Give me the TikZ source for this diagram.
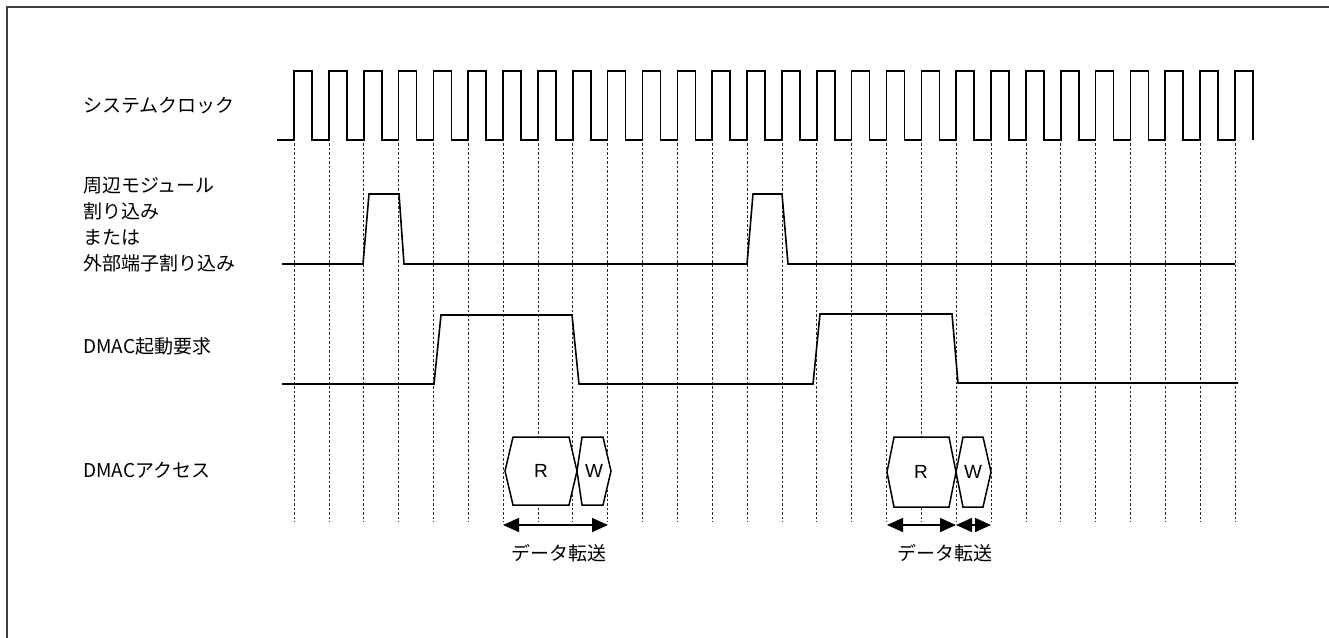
\documentclass[tikz,border=0pt]{standalone}
\usepackage{fontspec}
\setmainfont{Noto Sans CJK JP}
\newfontfamily\latinfont{Liberation Sans}
\usepackage{tikz}
\usetikzlibrary{arrows.meta}
\tikzset{
  signal/.style={line width=1.6pt},
  gridline/.style={line width=0.7pt, dash pattern=on 2.5pt off 2pt, black!85},
  lbl/.style={anchor=west, inner sep=0pt, font=\fontsize{19}{25.7}\selectfont, align=left},
  hexbox/.style={line width=1.5pt, fill=white},
  xfer/.style={line width=1.5pt, {Triangle[length=16pt,width=14pt]}-{Triangle[length=16pt,width=14pt]}},
  rw/.style={font=\latinfont\fontsize{19}{22}\selectfont, inner sep=0pt}
}

\begin{document}
\begin{tikzpicture}[x=1pt,y=-1pt]
  \useasboundingbox (0,0) rectangle (1329,637);
  %% Frame
  \draw[line width=2pt, black!75] (7,645) -- (7,7) -- (1340,7);
  %% Clock grid
  \foreach \i in {0,...,27}
    \draw[gridline] ({294+34.85*\i},71) -- ({294+34.85*\i},522);

  %% Signal names
  \node[lbl] (clk) at (83,106) {システムクロック};
  \node[lbl] (irq) at (83,224.5) {周辺モジュール\\割り込み\\または\\外部端子割り込み};
  \node[lbl] (req) at (83,346) {DMAC起動要求};
  \node[lbl] (acc) at (83,470) {DMACアクセス};

  %% System clock
  \draw[signal] (277,140) \foreach \i in {0,...,27}{
      -- ({294+34.85*\i},140) -- ({294+34.85*\i},71)
      -- ({312+34.85*\i},71) -- ({312+34.85*\i},140)};

  %% Interrupt pulses
  \draw[signal] (282,264) -- (363,264) -- (369,194) -- (399,194) -- (404,264)
     -- (747,264) -- (753,194) -- (782,194) -- (788,264) -- (1235,264);

  %% DMAC request
  \draw[signal] (282,384) -- (434,384) -- (441,315) -- (572,315) -- (579,384)
     -- (813,384) -- (820,314) -- (952,314) -- (958,383) -- (1238,383);

  %% First access: R then W
  \draw[hexbox] (505,471) -- (513,437) -- (569,437) -- (577,471) -- (569,505) -- (513,505) -- cycle;
  \draw[hexbox] (577,471) -- (582,437) -- (603,437) -- (611,471) -- (603,505) -- (582,505) -- cycle;
  \node[rw] (rd1) at (541,471) {R};
  \node[rw] (wr1) at (594,471) {W};

  %% Second access
  \draw[hexbox] (887,472) -- (894,437) -- (949,437) -- (956,472) -- (949,507) -- (894,507) -- cycle;
  \draw[hexbox] (956,472) -- (963,437) -- (983,437) -- (991,472) -- (983,507) -- (963,507) -- cycle;
  \node[rw] (rd2) at (921,472) {R};
  \node[rw] (wr2) at (973,472) {W};

  %% Transfer spans
  \coordinate (a1) at (503,525);
  \coordinate (b1) at (608,525);
  \coordinate (a2) at (887,525);
  \coordinate (m2) at (956,525);
  \coordinate (b2) at (991,525);
  \draw[xfer] (a1) -- (b1);
  \draw[xfer] (a2) -- (m2);
  \draw[xfer] (m2) -- (b2);
  \node[lbl, anchor=center] (dt1) at (559,553) {データ転送};
  \node[lbl, anchor=center] (dt2) at (945,553) {データ転送};
\end{tikzpicture}
\end{document}
